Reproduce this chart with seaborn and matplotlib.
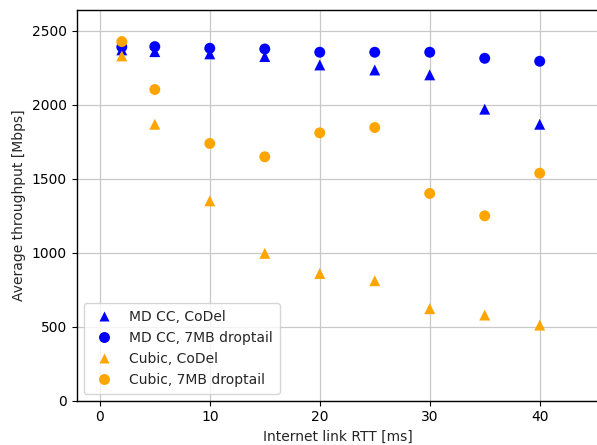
import pandas as pd
import matplotlib
matplotlib.use("Agg")
import matplotlib.pyplot as plt
import seaborn as sns

rtt = [2, 5, 10, 15, 20, 25, 30, 35, 40]

md_codel = [2372, 2360, 2345, 2327, 2270, 2236, 2203, 1971, 1869]
md_droptail = [2392, 2394, 2383, 2378, 2356, 2356, 2356, 2315, 2295]
cubic_codel = [2331, 1869, 1351, 996, 860, 811, 622, 579, 511]
cubic_droptail = [2428, 2104, 1739, 1649, 1811, 1847, 1401, 1250, 1538]

series = [
    ("MD CC, CoDel", md_codel, "blue", "^"),
    ("MD CC, 7MB droptail", md_droptail, "blue", "o"),
    ("Cubic, CoDel", cubic_codel, "orange", "^"),
    ("Cubic, 7MB droptail", cubic_droptail, "orange", "o"),
]

frames = []
for name, vals, _, _ in series:
    frames.append(pd.DataFrame({"rtt": rtt, "tput": vals, "config": name}))
df = pd.concat(frames, ignore_index=True)

sns.set_style("ticks")
plt.rcParams.update({"font.family": ["DejaVu Sans"], "font.size": 10})

fig = plt.figure(figsize=(5.97, 4.45), dpi=100)
# right edge pushed past the figure, the original is cropped there
ax = fig.add_axes([0.1285, 0.0996, 0.875, 0.8774])

sns.scatterplot(
    data=df, x="rtt", y="tput", hue="config", style="config",
    palette={n: c for n, _, c, _ in series},
    markers={n: m for n, _, _, m in series},
    hue_order=[s[0] for s in series],
    s=62, edgecolor="none", ax=ax, zorder=3,
)

ax.set_xlim(-2.1, 45.4)
ax.set_ylim(0, 2640)
ax.set_xticks([0, 10, 20, 30, 40])
ax.set_yticks([0, 500, 1000, 1500, 2000, 2500])
ax.grid(True, color="#c8c8c8", linewidth=0.9)
ax.set_axisbelow(True)
for sp in ax.spines.values():
    sp.set_color("black")
    sp.set_linewidth(1.0)
ax.tick_params(axis="both", colors="black", labelsize=10, length=3.5, width=0.8)
ax.set_xlabel("Internet link RTT [ms]", fontsize=10)
ax.set_ylabel("Average throughput [Mbps]", fontsize=10)

leg = ax.legend(loc="lower left", fontsize=10, frameon=True, title=None,
                borderpad=0.5, labelspacing=0.5, handletextpad=0.8)
leg.get_frame().set_edgecolor("#cccccc")
leg.get_frame().set_alpha(0.8)

fig.savefig("out.png", dpi=100)
